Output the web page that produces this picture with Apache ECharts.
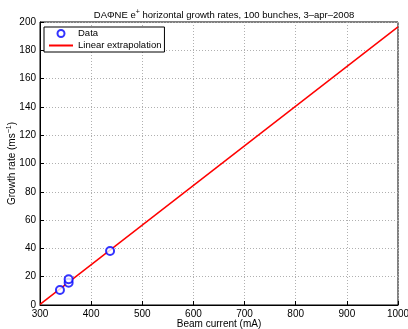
<!DOCTYPE html>
<html>
<head>
<meta charset="utf-8">
<script src="https://cdn.jsdelivr.net/npm/echarts@6/dist/echarts.min.js"></script>
<style>
  html, body { margin: 0; padding: 0; background: #fff; }
  #chart { width: 408px; height: 329px; }
</style>
</head>
<body>
<div id="chart"></div>
<script>
// measured points
const beamCurrent = [339, 356, 356, 437];
const growthRate = [10.6, 15.8, 18.2, 38.2];
// linear fit, drawn between its two ends
const fitCurrent = [300, 1000];
const fitRate = [0.5, 196.5];

const font = 'Liberation Sans, Arial, sans-serif';
let chart = echarts.init(document.getElementById('chart'));

const axisCommon = {
    axisLine: { onZero: false, lineStyle: { color: '#000', width: 1 } },
    axisTick: { inside: true, length: 4, lineStyle: { color: '#000' } },
    axisLabel: { color: '#000', fontSize: 10, fontFamily: font, margin: 4, formatter: v => String(v) },
    splitLine: { show: true, lineStyle: { color: '#b0b0b0', type: [1, 2], width: 1 } },
    nameMoveOverlap: false,
    nameTextStyle: {
        color: '#000', fontSize: 10, fontFamily: font,
        rich: { sup: { fontSize: 7, padding: [0, 0, 6, 0], color: '#000', fontFamily: font } }
    }
};

chart.setOption({
    animation: false,
    title: {
        text: 'DAΦNE e{sup|+} horizontal growth rates, 100 bunches, 3–apr–2008',
        left: 219, top: 4, textAlign: 'center',
        textStyle: {
            fontSize: 9.5, fontWeight: 'normal', color: '#000', fontFamily: font,
            rich: { sup: { fontSize: 7, padding: [0, 0, 6, 0], color: '#000', fontFamily: font } }
        }
    },
    grid: {
        left: 40, right: 10, top: 22, bottom: 24, outerBoundsMode: 'none', containLabel: false,
        show: true, borderColor: '#000', borderWidth: 1
    },
    legend: {
        left: 44, top: 27, orient: 'vertical',
        backgroundColor: '#fff', borderColor: '#000', borderWidth: 1,
        padding: [1, 3, 1, 4], itemGap: 1, itemWidth: 24, itemHeight: 7,
        textStyle: { fontSize: 9.5, lineHeight: 11, color: '#000', fontFamily: font },
        data: [
            { name: 'Data' },
            { name: 'Linear extrapolation', itemStyle: { color: 'rgba(0,0,0,0)', borderWidth: 0 } }
        ]
    },
    xAxis: Object.assign({}, axisCommon, {
        type: 'value', min: 300, max: 1000, interval: 100,
        name: 'Beam current (mA)', nameLocation: 'middle', nameGap: 14
    }),
    yAxis: Object.assign({}, axisCommon, {
        type: 'value', min: 0, max: 200, interval: 20,
        name: 'Growth rate (ms{sup|−1})', nameLocation: 'middle', nameGap: 21
    }),
    series: [
        {
            name: 'Data', type: 'scatter',
            data: beamCurrent.map((x, i) => [x, growthRate[i]]),
            symbol: 'emptyCircle', symbolSize: 8,
            itemStyle: { color: '#0000ff', borderWidth: 1.5 },
            z: 3
        },
        {
            name: 'Linear extrapolation', type: 'line',
            data: fitCurrent.map((x, i) => [x, fitRate[i]]),
            showSymbol: false, symbol: 'none',
            lineStyle: { color: '#ff0000', width: 1.5 },
            itemStyle: { color: '#ff0000' },
            z: 2
        }
    ]
});
</script>
</body>
</html>
